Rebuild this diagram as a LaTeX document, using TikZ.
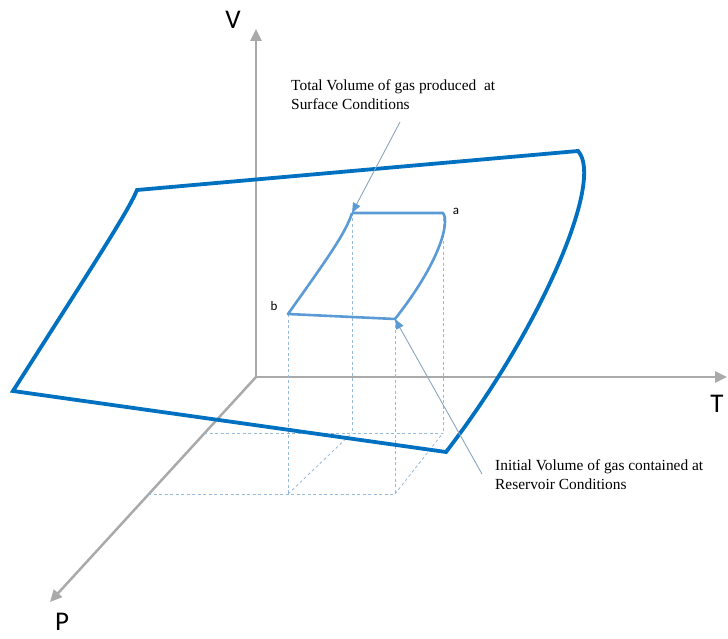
\documentclass[tikz,border=0pt]{standalone}
\usepackage{xcolor}
\usepackage{fontspec}
\setmainfont{Liberation Serif}
\newfontfamily\labelfont{Carlito}
\usepackage{tikz}
\usetikzlibrary{arrows.meta, positioning}

\definecolor{surfblue}{RGB}{0,112,192}
\definecolor{loopblue}{RGB}{91,155,213}
\definecolor{axisgray}{RGB}{170,170,170}
\definecolor{guideblue}{RGB}{150,185,220}
\definecolor{notegray}{RGB}{140,165,190}

\begin{document}
\begin{tikzpicture}[x=1pt, y=-1pt,
        axis/.style={draw=axisgray, line width=2.5pt, -{Triangle[length=12pt, width=11pt]}},
        axislabel/.style={font=\labelfont\fontsize{27}{30}\selectfont, inner sep=0pt},
        guide/.style={draw=guideblue, line width=0.8pt, dash pattern=on 3pt off 2.5pt},
        surface/.style={draw=surfblue, line width=3.8pt, line join=miter},
        cycleline/.style={draw=loopblue, line width=2.6pt, line join=round},
        note/.style={draw=notegray, line width=0.9pt, -{Triangle[length=10pt, width=8pt, fill=loopblue, color=loopblue]}},
        notetext/.style={font=\fontsize{15.4}{19}\selectfont, align=left, inner sep=0pt, anchor=north west},
        pointlabel/.style={font=\labelfont\fontsize{13}{15}\selectfont, inner sep=0pt}]
    \useasboundingbox (0,0) rectangle (728,639);

    % axes
    \coordinate (O) at (256,377);
    \coordinate (Vend) at (256,29);
    \coordinate (Tend) at (727,377);
    \coordinate (Pend) at (50,602);
    \draw[axis] (O) -- (Vend);
    \draw[axis] (O) -- (Tend);
    \draw[axis] (O) -- (Pend);
    \node (V) [axislabel] at (233,20) {V};
    \node (T) [axislabel] at (717,404) {T};
    \node (P) [axislabel] at (62,622) {P};

    % projection of the cycle
    \coordinate (a) at (443,213);
    \coordinate (c) at (352,213);
    \coordinate (b) at (288,314);
    \coordinate (d) at (395,319);
    \coordinate (ad) at (443,433);
    \coordinate (cd) at (352,433);
    \coordinate (bd) at (288,494);
    \coordinate (dd) at (395,494);
    \coordinate (ptop) at (204,433);
    \coordinate (pbot) at (148,494);
    \draw[guide] (c) -- (cd);
    \draw[guide] (a) -- (ad);
    \draw[guide] (b) -- (bd);
    \draw[guide] (d) -- (dd);
    \draw[guide] (ptop) -- (ad);
    \draw[guide] (pbot) -- (dd);
    \draw[guide] (bd) -- (cd);
    \draw[guide] (dd) -- (ad);

    % PVT surface
    \coordinate (s1) at (137,190);
    \coordinate (s2) at (578,151);
    \coordinate (s3) at (446,452);
    \coordinate (s4) at (13,391);
    \draw[surface] (s1) -- (s2) .. controls (605,180) and (540,330) .. (s3)
        -- (s4) .. controls (90,270) and (128,212) .. (s1) -- cycle;

    % process on the surface
    \draw[cycleline] (c) -- (a) .. controls (450,222) and (440,262) .. (d)
        -- (b) .. controls (330,255) and (346,232) .. (c);
    \node (alabel) [pointlabel] at (456,211) {a};
    \node (blabel) [pointlabel] at (274,306) {b};

    % notes
    \node (total) [notetext] at (291,79) {Total Volume of gas produced\ \ at\\Surface Conditions};
    \node (initial) [notetext] at (495,459) {Initial Volume of gas contained at\\Reservoir Conditions};
    \coordinate (tstart) at (400,122);
    \coordinate (istart) at (482,474);
    \draw[note] (tstart) -- (c);
    \draw[note] (istart) -- (d);
\end{tikzpicture}
\end{document}
